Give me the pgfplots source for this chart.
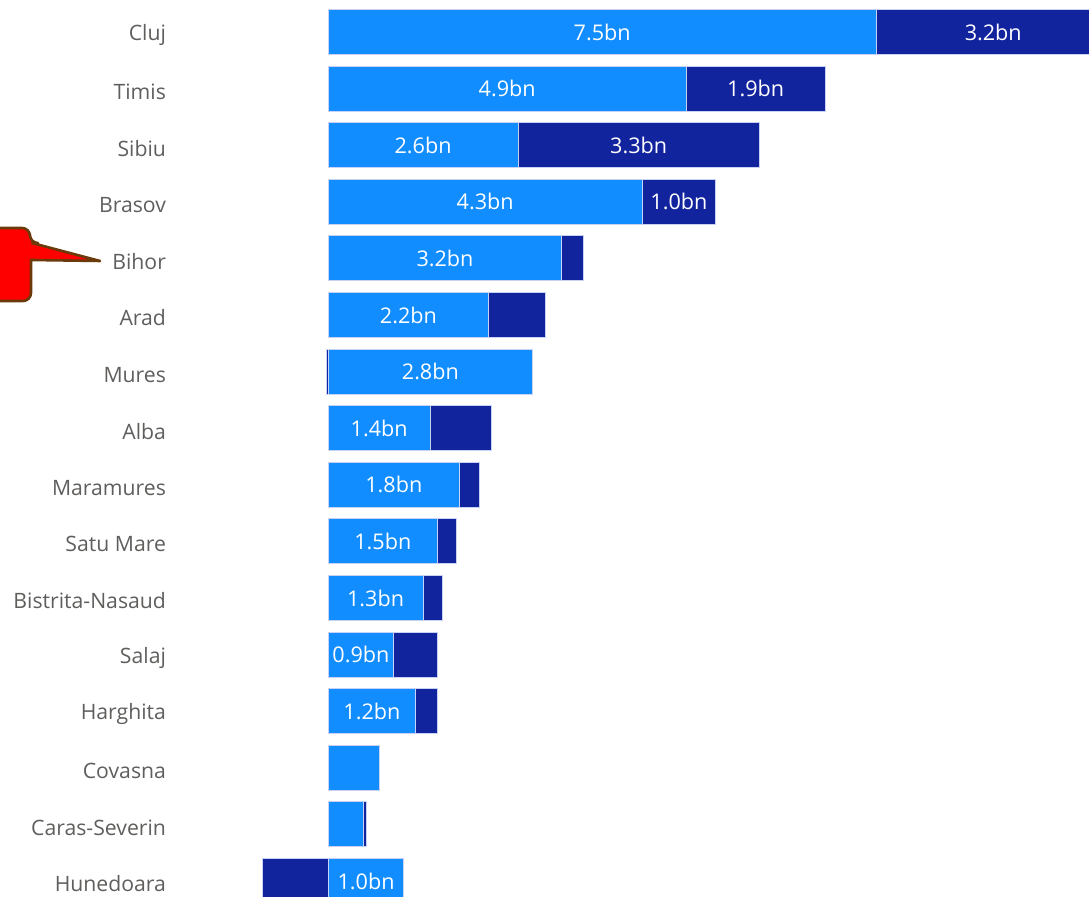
\documentclass[border=0pt]{standalone}
\usepackage{pgfplots}
\pgfplotsset{compat=1.18}
\usepackage{fontspec}
\setmainfont{Open Sans}
\definecolor{lightbar}{HTML}{118DFF}
\definecolor{darkbar}{HTML}{12239E}
\definecolor{labelgray}{HTML}{605E5C}
\definecolor{barborder}{HTML}{C8D2F5}
\definecolor{calloutred}{HTML}{FF0000}
\definecolor{calloutborder}{HTML}{6B3A0A}
\pgfplotsset{
  common/.style={
    at={(90pt,0pt)}, anchor=south west, scale only axis,
    width=454.5pt, height=448.5pt,
    xmin=-2.025, xmax=10.41, ymin=-0.565, ymax=15.283,
    y dir=reverse,
    axis line style={draw=none}, tick style={draw=none},
    xtick=\empty,
    clip=true,
  }
}
\begin{document}
\begin{tikzpicture}
\useasboundingbox (0,0) rectangle (544.5pt,448.5pt);
\begin{axis}[common,
  xbar stacked, bar width=22.5pt,
  ytick={0,...,15},
  yticklabels={Cluj,Timis,Sibiu,Brasov,Bihor,Arad,Mures,Alba,Maramures,Satu Mare,Bistrita-Nasaud,Salaj,Harghita,Covasna,Caras-Severin,Hunedoara},
  yticklabel style={text=labelgray, font=\fontsize{10.6}{12}\selectfont, xshift=-3.5pt, yshift=-1.5pt},
]
\addplot[fill=lightbar, draw=barborder, line width=0.5pt] coordinates {
(7.5,0) (4.9,1) (2.6,2) (4.3,3) (3.2,4) (2.2,5) (2.8,6) (1.4,7)
(1.8,8) (1.5,9) (1.3,10) (0.9,11) (1.2,12) (0.7,13) (0.48,14) (1.03,15)};
\addplot[fill=darkbar, draw=barborder, line width=0.5pt] coordinates {
(3.2,0) (1.9,1) (3.3,2) (1.0,3) (0.3,4) (0.78,5) (0,6) (0.83,7)
(0.27,8) (0.26,9) (0.26,10) (0.6,11) (0.3,12) (0,13) (0.04,14) (0,15)};
\end{axis}
\begin{axis}[common, ytick=\empty]
\addplot[xbar, bar width=22.5pt, fill=darkbar, draw=barborder, line width=0.5pt] coordinates {
(-0.02,6) (-0.89,15)};
\addplot[only marks, mark=none, nodes near coords, point meta=explicit symbolic,
  every node near coord/.append style={anchor=center, text=white, font=\fontsize{10.8}{12}\selectfont}]
  table[meta=label] {
x y label
3.75 0 7.5bn
9.1 0 3.2bn
2.45 1 4.9bn
5.85 1 1.9bn
1.3 2 2.6bn
4.25 2 3.3bn
2.15 3 4.3bn
4.8 3 1.0bn
1.6 4 3.2bn
1.1 5 2.2bn
1.4 6 2.8bn
0.7 7 1.4bn
0.9 8 1.8bn
0.75 9 1.5bn
0.65 10 1.3bn
0.45 11 0.9bn
0.6 12 1.2bn
0.52 15 1.0bn
};
\end{axis}
\draw[fill=calloutred, draw=calloutborder, line width=1.3pt, line join=round, rounded corners=4pt]
  (-10pt,334.5pt) -- (15pt,334.5pt) -- (15pt,327pt) [sharp corners] -- (16pt,327pt) -- (50pt,318pt) -- (15.5pt,318.5pt)
  [rounded corners=4pt] -- (15.5pt,298pt) -- (-10pt,298pt) -- cycle;
\end{tikzpicture}
\end{document}
